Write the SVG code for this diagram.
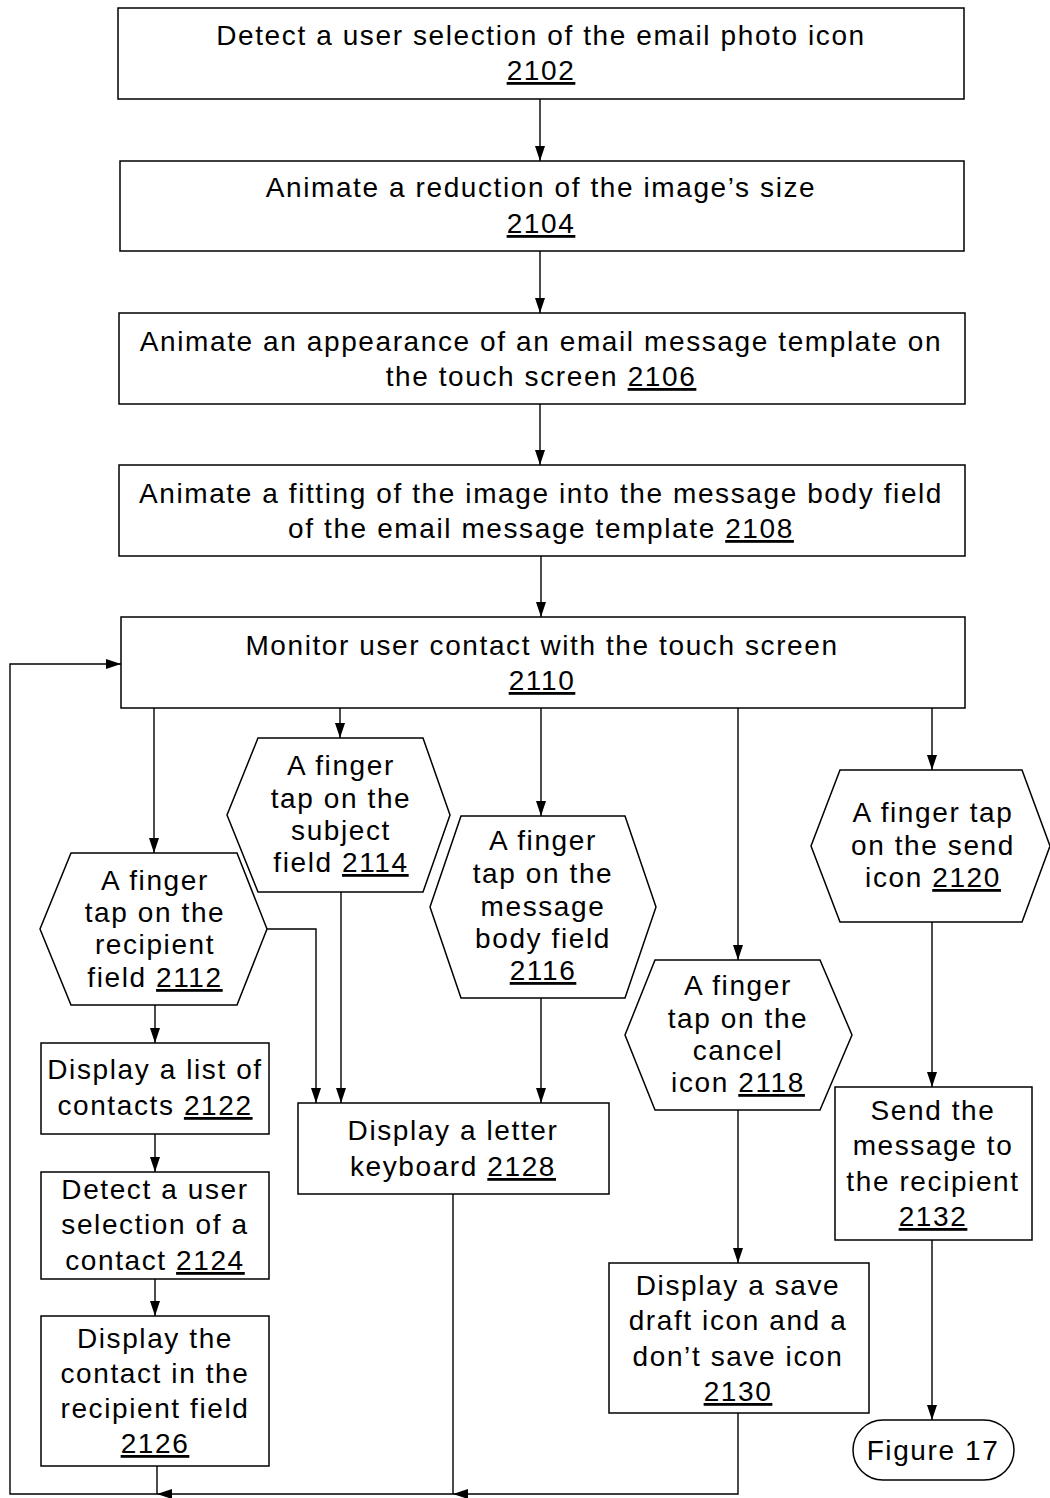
<svg xmlns="http://www.w3.org/2000/svg" width="1050" height="1498" viewBox="0 0 1050 1498">
<defs>
<marker id="ah" viewBox="0 0 15 10" refX="15" refY="5" markerWidth="15" markerHeight="10" markerUnits="userSpaceOnUse" orient="auto">
<path d="M0,0 L15,5 L0,10 z" fill="#000"/>
</marker>
<style>
.b{fill:#fff;stroke:#000;stroke-width:1.5}
.c{fill:none;stroke:#000;stroke-width:1.4}
.a{marker-end:url(#ah)}
text{font-family:"Liberation Sans",Arial,sans-serif;font-size:28px;letter-spacing:1.6px;fill:#000;text-anchor:middle}
.u{text-decoration:underline}
</style>
</defs>
<rect width="1050" height="1498" fill="#fff"/>
<g id="connectors">
<line class="c a" x1="540" y1="99" x2="540" y2="161"/>
<line class="c a" x1="540" y1="251" x2="540" y2="313"/>
<line class="c a" x1="540" y1="404" x2="540" y2="465"/>
<line class="c a" x1="541" y1="556" x2="541" y2="617"/>
<line class="c a" x1="154" y1="708" x2="154" y2="853"/>
<line class="c a" x1="340" y1="708" x2="340" y2="738"/>
<line class="c a" x1="541" y1="708" x2="541" y2="816"/>
<line class="c a" x1="738" y1="708" x2="738" y2="960"/>
<line class="c a" x1="932" y1="708" x2="932" y2="770"/>
<line class="c a" x1="155" y1="1005" x2="155" y2="1043"/>
<line class="c a" x1="155" y1="1134" x2="155" y2="1172"/>
<line class="c a" x1="155" y1="1279" x2="155" y2="1316"/>
<polyline class="c a" points="267,929 316,929 316,1103"/>
<line class="c a" x1="341" y1="892" x2="341" y2="1103"/>
<line class="c a" x1="541" y1="998" x2="541" y2="1103"/>
<line class="c a" x1="738" y1="1110" x2="738" y2="1263"/>
<line class="c a" x1="932" y1="922" x2="932" y2="1087"/>
<line class="c a" x1="932" y1="1240" x2="932" y2="1420"/>
<polyline class="c a" points="738,1413 738,1494 453,1494"/>
<polyline class="c a" points="453,1194 453,1494 157,1494"/>
<polyline class="c a" points="157,1466 157,1494 10,1494 10,664 121,664"/>
</g>
<g id="n2102"><rect class="b" x="118" y="8" width="846" height="91"/><text x="541" y="45">Detect a user selection of the email photo icon</text><text x="541" y="80" class="u">2102</text></g>
<g id="n2104"><rect class="b" x="120" y="161" width="844" height="90"/><text x="541" y="197">Animate a reduction of the image’s size</text><text x="541" y="233" class="u">2104</text></g>
<g id="n2106"><rect class="b" x="119" y="313" width="846" height="91"/><text x="541" y="351">Animate an appearance of an email message template on</text><text x="541" y="386">the touch screen <tspan class="u">2106</tspan></text></g>
<g id="n2108"><rect class="b" x="119" y="465" width="846" height="91"/><text x="541" y="503">Animate a fitting of the image into the message body field</text><text x="541" y="538">of the email message template <tspan class="u">2108</tspan></text></g>
<g id="n2110"><rect class="b" x="121" y="617" width="844" height="91"/><text x="542" y="655">Monitor user contact with the touch screen</text><text x="542" y="690" class="u">2110</text></g>
<g id="n2112"><polygon class="b" points="71,853 237,853 267,929 237,1005 71,1005 40,929"/><text x="155" y="890">A finger</text><text x="155" y="922">tap on the</text><text x="155" y="954">recipient</text><text x="155" y="987">field <tspan class="u">2112</tspan></text></g>
<g id="n2114"><polygon class="b" points="258,738 423,738 450,815 423,892 258,892 227,815"/><text x="341" y="775">A finger</text><text x="341" y="808">tap on the</text><text x="341" y="840">subject</text><text x="341" y="872">field <tspan class="u">2114</tspan></text></g>
<g id="n2116"><polygon class="b" points="461,816 625,816 656,907 625,998 461,998 430,907"/><text x="543" y="850">A finger</text><text x="543" y="883">tap on the</text><text x="543" y="916">message</text><text x="543" y="948">body field</text><text x="543" y="980" class="u">2116</text></g>
<g id="n2118"><polygon class="b" points="655,960 820,960 852,1035 820,1110 655,1110 625,1035"/><text x="738" y="995">A finger</text><text x="738" y="1028">tap on the</text><text x="738" y="1060">cancel</text><text x="738" y="1092">icon <tspan class="u">2118</tspan></text></g>
<g id="n2120"><polygon class="b" points="840,770 1022,770 1050,846 1022,922 840,922 811,846"/><text x="933" y="822">A finger tap</text><text x="933" y="855">on the send</text><text x="933" y="887">icon <tspan class="u">2120</tspan></text></g>
<g id="n2122"><rect class="b" x="41" y="1043" width="228" height="91"/><text x="155" y="1079">Display a list of</text><text x="155" y="1115">contacts <tspan class="u">2122</tspan></text></g>
<g id="n2124"><rect class="b" x="41" y="1172" width="228" height="107"/><text x="155" y="1199">Detect a user</text><text x="155" y="1234">selection of a</text><text x="155" y="1270">contact <tspan class="u">2124</tspan></text></g>
<g id="n2126"><rect class="b" x="41" y="1316" width="228" height="150"/><text x="155" y="1348">Display the</text><text x="155" y="1383">contact in the</text><text x="155" y="1418">recipient field</text><text x="155" y="1453" class="u">2126</text></g>
<g id="n2128"><rect class="b" x="298" y="1103" width="311" height="91"/><text x="453" y="1140">Display a letter</text><text x="453" y="1176">keyboard <tspan class="u">2128</tspan></text></g>
<g id="n2130"><rect class="b" x="609" y="1263" width="260" height="150"/><text x="738" y="1295">Display a save</text><text x="738" y="1330">draft icon and a</text><text x="738" y="1366">don’t save icon</text><text x="738" y="1401" class="u">2130</text></g>
<g id="n2132"><rect class="b" x="835" y="1087" width="197" height="153"/><text x="933" y="1120">Send the</text><text x="933" y="1155">message to</text><text x="933" y="1191">the recipient</text><text x="933" y="1226" class="u">2132</text></g>
<g id="fig17"><rect class="b" x="853" y="1420" width="161" height="60" rx="30" ry="30"/><text x="933" y="1460">Figure 17</text></g>
</svg>
